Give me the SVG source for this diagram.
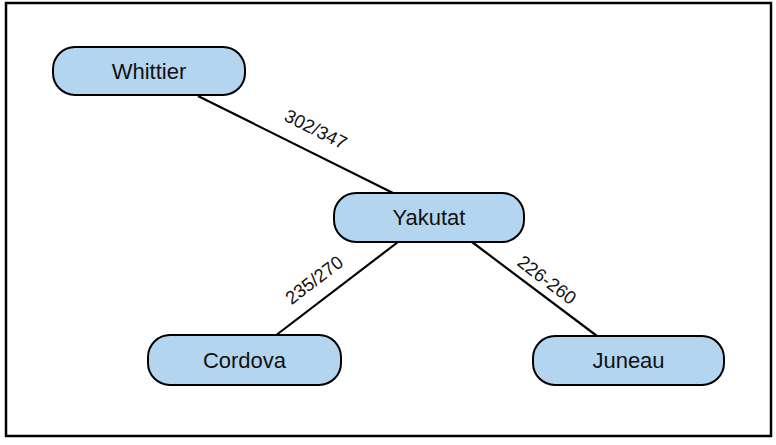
<svg xmlns="http://www.w3.org/2000/svg" width="776" height="445" viewBox="0 0 776 445">
<style>
.node rect{fill:#b4d5f0;stroke:#000;stroke-width:2}
.node text{font-family:"Liberation Sans",Arial,sans-serif;font-size:22px;fill:#111;text-anchor:middle;dominant-baseline:central}
.edge line{stroke:#000;stroke-width:2.2}
.lbl{font-family:"Liberation Sans",Arial,sans-serif;font-size:18.5px;fill:#111;text-anchor:middle}
</style>
<rect x="6" y="3" width="765" height="433" fill="#fff" stroke="#000" stroke-width="2.5"/>
<g id="connectors" class="edge">
<line x1="198" y1="96" x2="393" y2="193"/>
<line x1="398" y1="242" x2="275" y2="336"/>
<line x1="472" y1="242" x2="597" y2="336"/>
<text class="lbl" transform="translate(313,135) rotate(26.5)">302/347</text>
<text class="lbl" transform="translate(318,285) rotate(-37.4)">235/270</text>
<text class="lbl" transform="translate(543,285) rotate(37)">226-260</text>
</g>
<g id="whittier" class="node"><rect x="53" y="47" width="192" height="48" rx="22"/><text x="149" y="71">Whittier</text></g>
<g id="yakutat" class="node"><rect x="334" y="193" width="190" height="49" rx="22"/><text x="429" y="217.5">Yakutat</text></g>
<g id="cordova" class="node"><rect x="148" y="335" width="193" height="50" rx="22"/><text x="244.5" y="360">Cordova</text></g>
<g id="juneau" class="node"><rect x="533" y="336" width="191" height="49" rx="22"/><text x="628.5" y="360.5">Juneau</text></g>
</svg>
